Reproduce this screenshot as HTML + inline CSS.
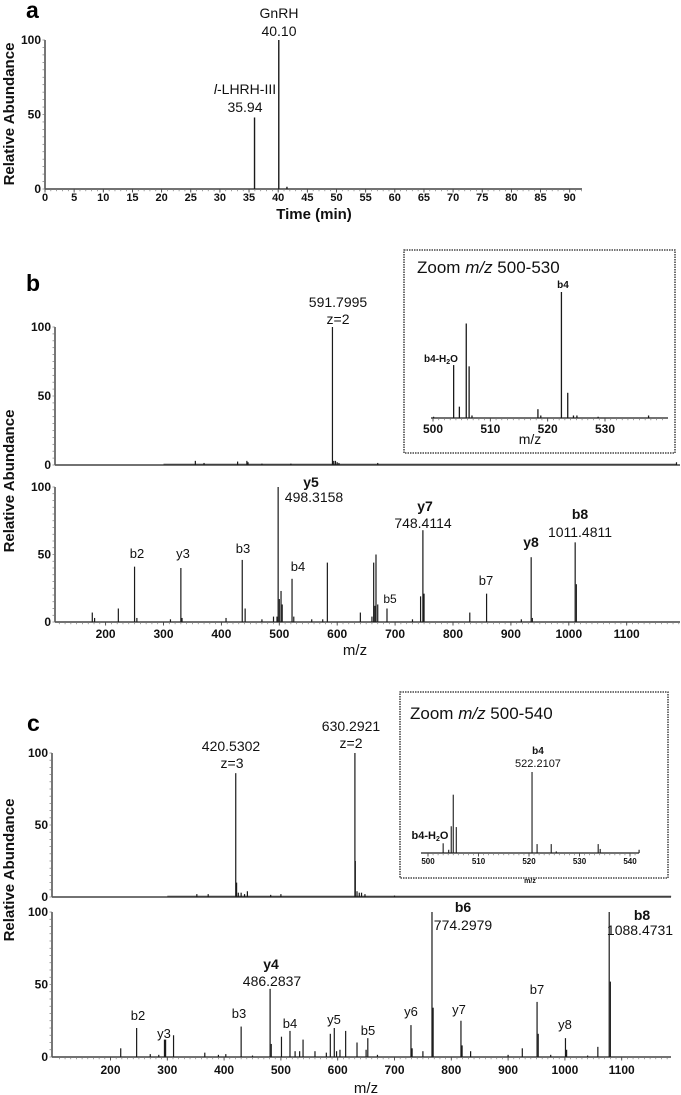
<!DOCTYPE html>
<html><head><meta charset="utf-8"><title>LC-MS figure</title>
<style>
html,body{margin:0;padding:0;background:#fff;}
svg{display:block;font-family:"Liberation Sans",Arial,sans-serif;}
.tk{font-size:11px;font-weight:bold;fill:#111;}
.ann{font-size:14px;fill:#111;}
.ion{font-size:14px;font-weight:bold;fill:#111;}
.ionr{font-size:13px;fill:#111;}
.yt{font-size:15px;font-weight:bold;fill:#111;}
.pl{font-size:23px;font-weight:bold;fill:#000;}
</style></head>
<body>
<svg id="fig" width="681" height="1095" viewBox="0 0 681 1095">
<text class="pl" x="26" y="18">a</text>
<text class="pl" x="26" y="291">b</text>
<text class="pl" x="27" y="731">c</text>
<text class="yt" transform="translate(14,114) rotate(-90)" text-anchor="middle">Relative Abundance</text>
<text class="yt" transform="translate(14,481) rotate(-90)" text-anchor="middle">Relative Abundance</text>
<text class="yt" transform="translate(14,870) rotate(-90)" text-anchor="middle">Relative Abundance</text>
<text class="yt" x="314" y="219" text-anchor="middle">Time (min)</text>
<text class="ann" x="355" y="655" text-anchor="middle" style="font-size:15px">m/z</text>
<text class="ann" x="366" y="1093" text-anchor="middle" style="font-size:15px">m/z</text>

<text class="ann" x="279" y="18" text-anchor="middle">GnRH</text>
<text class="ann" x="279" y="36" text-anchor="middle">40.10</text>
<text class="ann" x="245" y="94" text-anchor="middle"><tspan font-style="italic">l</tspan>-LHRH-III</text>
<text class="ann" x="245" y="112" text-anchor="middle">35.94</text>

<text class="ann" x="338" y="307" text-anchor="middle">591.7995</text>
<text class="ann" x="338" y="324" text-anchor="middle">z=2</text>
<text class="ion" x="311" y="487" text-anchor="middle">y5</text>
<text class="ann" x="314" y="502" text-anchor="middle">498.3158</text>
<text class="ion" x="425" y="511" text-anchor="middle">y7</text>
<text class="ann" x="423" y="528" text-anchor="middle">748.4114</text>
<text class="ion" x="580" y="519" text-anchor="middle">b8</text>
<text class="ann" x="580" y="537" text-anchor="middle">1011.4811</text>
<text class="ion" x="531" y="547" text-anchor="middle">y8</text>
<text class="ionr" x="137" y="558" text-anchor="middle">b2</text>
<text class="ionr" x="183" y="558" text-anchor="middle">y3</text>
<text class="ionr" x="243" y="553" text-anchor="middle">b3</text>
<text class="ionr" x="298" y="571" text-anchor="middle">b4</text>
<text class="ionr" x="390" y="603" text-anchor="middle" style="font-size:12px">b5</text>
<text class="ionr" x="486" y="585" text-anchor="middle">b7</text>

<rect x="404" y="250" width="271" height="203" fill="none" stroke="#222" stroke-width="1.3" stroke-dasharray="1.5,1"/>
<text x="417" y="273" style="font-size:17px" fill="#111">Zoom <tspan font-style="italic">m/z</tspan> 500-530</text>
<text x="563" y="288" text-anchor="middle" style="font-size:10px;font-weight:bold" fill="#111">b4</text>
<text x="441" y="362" text-anchor="middle" style="font-size:10px;font-weight:bold" fill="#111">b4-H<tspan font-size="7" dy="2">2</tspan><tspan dy="-2">O</tspan></text>
<text x="530" y="444" text-anchor="middle" style="font-size:14px" fill="#111">m/z</text>

<text class="ann" x="231" y="751" text-anchor="middle">420.5302</text>
<text class="ann" x="232" y="768" text-anchor="middle">z=3</text>
<text class="ann" x="351" y="731" text-anchor="middle">630.2921</text>
<text class="ann" x="351" y="748" text-anchor="middle">z=2</text>
<text class="ion" x="463" y="912" text-anchor="middle">b6</text>
<text class="ann" x="463" y="930" text-anchor="middle">774.2979</text>
<text class="ion" x="642" y="920" text-anchor="middle">b8</text>
<text class="ann" x="640" y="935" text-anchor="middle">1088.4731</text>
<text class="ion" x="271" y="969" text-anchor="middle">y4</text>
<text class="ann" x="272" y="986" text-anchor="middle">486.2837</text>
<text class="ionr" x="138" y="1020" text-anchor="middle">b2</text>
<text class="ionr" x="164" y="1038" text-anchor="middle">y3</text>
<text class="ionr" x="239" y="1018" text-anchor="middle">b3</text>
<text class="ionr" x="290" y="1028" text-anchor="middle">b4</text>
<text class="ionr" x="334" y="1024" text-anchor="middle">y5</text>
<text class="ionr" x="368" y="1035" text-anchor="middle">b5</text>
<text class="ionr" x="411" y="1016" text-anchor="middle">y6</text>
<text class="ionr" x="459" y="1014" text-anchor="middle">y7</text>
<text class="ionr" x="537" y="994" text-anchor="middle">b7</text>
<text class="ionr" x="565" y="1029" text-anchor="middle">y8</text>

<rect x="400" y="692" width="268" height="186" fill="none" stroke="#222" stroke-width="1.3" stroke-dasharray="1.5,1"/>
<text x="410" y="719" style="font-size:17px" fill="#111">Zoom <tspan font-style="italic">m/z</tspan> 500-540</text>
<text x="538" y="754" text-anchor="middle" style="font-size:10px;font-weight:bold" fill="#111">b4</text>
<text x="538" y="767" text-anchor="middle" style="font-size:11px" fill="#111">522.2107</text>
<text x="430" y="839" text-anchor="middle" style="font-size:11px;font-weight:bold" fill="#111">b4-H<tspan font-size="7" dy="2">2</tspan><tspan dy="-2">O</tspan></text>
<text x="530" y="883" text-anchor="middle" style="font-size:7px;font-weight:bold" fill="#111">m/z</text>

<g id="marks"></g>
</svg>
<script>
// ---- data ----
const aTimes = [35.94, 40.10, 41.5];
const aHeights = [48, 100, 1.5];
const aXTicks = [0,5,10,15,20,25,30,35,40,45,50,55,60,65,70,75,80,85,90];
const yTicks = [0, 50, 100];
const mzTicks = [200,300,400,500,600,700,800,900,1000,1100];

const bMsMz  = [355,370,428,444,446,470,520,591.8,594,597,600,603,670,1186];
const bMsInt = [3,1.5,2.5,3,2,1,1,100,3,3,2,1.5,1.5,2];
const bMs2Mz  = [177,181,222,250,254,312,330,332,408,436,441,470,490,496,498,500,503,505,522,525,556,575,583,640,660,663,665,667,670,686,730,744,748,750,829,858,918,935,937,1011,1013];
const bMs2Int = [7,3,10,41,3,2,40,3,3,46,10,2,4,4,100,17,23,13,32,4,2,2,44,7,4,44,12,50,13,10,2,19,68,21,7,21,2,48,3,59,28];
const bInsetMz  = [500.1,503.6,504.6,505.8,506.3,506.8,518.3,518.8,522.4,523.5,524.5,525.1,528.8,537.6];
const bInsetInt = [1,42,9,75,41,2,7,2,100,20,2,2,1,2];
const bInsetTicks = [500,510,520,530];

const cMsMz  = [352,372,420.5,422,425,430,436,441,482,500,630.3,631,634,638,642,648,700];
const cMsInt = [2,2,86,10,3,3,2,4,1.5,2,100,25,4,3,3,2,1];
const cMs2Mz  = [218,246,270,285,295,297,311,366,390,403,430,450,481,483,501,516,525,533,539,560,580,587,594,598,604,614,634,650,653,670,729,731,750,766,768,817,819,834,900,925,951,953,975,1001,1003,1040,1058,1078,1080];
const cMs2Int = [6,20,2,1.5,12,12,15,3,1.5,2,21,1,47,9,14,18,4,4,12,4,3,16,20,4,5,18,10,5,13,1.5,22,6,4,100,34,25,8,4,1.5,6,38,16,1.5,13,5,1,7,100,52];
const cInsetMz  = [503.0,504.1,504.6,505.0,505.6,520.6,521.6,524.4,525.4,533.7,534.1,541.8];
const cInsetInt = [12,4,33,72,32,100,11,11,2,11,5,4];
const cInsetTicks = [500,510,520,530,540];

// ---- drawing ----
const NS = 'http://www.w3.org/2000/svg';
const marks = document.getElementById('marks');
function mk(tag, parent){ const e=document.createElementNS(NS,tag); parent.appendChild(e); return e; }
function line(parent,x1,y1,x2,y2,w,c){ const l=mk('line',parent); l.setAttribute('x1',x1);l.setAttribute('y1',y1);l.setAttribute('x2',x2);l.setAttribute('y2',y2);l.setAttribute('stroke',c||'#222');l.setAttribute('stroke-width',w||1); return l; }
function txt(parent,x,y,s,cls,anchor){ const t=mk('text',parent); t.setAttribute('x',x);t.setAttribute('y',y);t.setAttribute('class',cls);t.setAttribute('text-anchor',anchor||'middle');t.textContent=s; return t; }
function linScale(d0,d1,r0,r1){ return v => r0+(v-d0)*(r1-r0)/(d1-d0); }

function drawAxes(name, X, Y, xl, xr, opts){
  const g = mk('g', marks);
  
  
  const y0 = Y(0), y100 = Y(100);
  const ax = line(g, xl, y0, xr, y0, 1.6, '#444');
  
  
  if(!opts.noY){
    const ay = line(g, xl, y0, xl, y100, 1.6, '#555');
    
    
    for(let v=0; v<=100; v+=5){ line(g, xl-2.5, Y(v), xl, Y(v), 0.7, '#777'); }
  }
  if(opts.yLabels){
    for(const v of yTicks){
      const t = txt(g, xl-4, Y(v)+4, String(v), 'tk', 'end');
      t.setAttribute('style','font-size:12px');
      
      
    }
  }
  if(opts.minorStep){
    for(let v=opts.minorStart; X(v)<=xr; v+=opts.minorStep){ if(X(v)>=xl) line(g, X(v), y0, X(v), y0+2.2, 0.7, '#777'); }
  }
  if(opts.xTicks){
    for(const v of opts.xTicks){
      line(g, X(v), y0, X(v), y0+3.5, 0.9, '#444');
      if(opts.xLabels){
        const t = txt(g, X(v), y0+opts.labOff, String(v), 'tk');
        if(opts.labSize) t.setAttribute('style','font-size:'+opts.labSize+'px');
        
        
      }
    }
  }
}

function drawPeaks(name, X, Y, xs, ys, w){
  const g = mk('g', marks);
  
  
  for(let i=0;i<xs.length;i++){
    const l = line(g, X(xs[i]), Y(0), X(xs[i]), Y(ys[i]), w||1, '#1a1a1a');
    
    
  }
}

// panel a
const aX = linScale(0,90,45,45+5.83*90), aY = linScale(0,100,189,40);
drawAxes('panel-a', aX, aY, 45, 582, {yLabels:true, xTicks:aXTicks, xLabels:true, labOff:12, minorStep:1, minorStart:0});
drawPeaks('panel-a', aX, aY, aTimes, aHeights, 1.4);

// panel b
const bX = linScale(200,1100,105.6,105.6+0.579*900);
const bTopY = linScale(0,100,465,327), bBotY = linScale(0,100,622,487);
const bn = line(marks, bX(300), bTopY(0)-0.6, bX(1186), bTopY(0)-0.6, 1.4, '#333');


drawAxes('panel-b-ms', bX, bTopY, 55, 680, {yLabels:true});
drawPeaks('panel-b-ms', bX, bTopY, bMsMz, bMsInt, 1.2);
drawAxes('panel-b-msms', bX, bBotY, 55, 680, {yLabels:true, xTicks:mzTicks, xLabels:true, labOff:16, labSize:12, minorStep:10, minorStart:120});
drawPeaks('panel-b-msms', bX, bBotY, bMs2Mz, bMs2Int, 1.2);
const biX = linScale(500,530,433,605), biY = linScale(0,100,418,292);
drawAxes('panel-b-inset', biX, biY, 431, 668, {noY:true, xTicks:bInsetTicks, xLabels:true, labOff:15, labSize:12, minorStep:1, minorStart:500});
drawPeaks('panel-b-inset', biX, biY, bInsetMz, bInsetInt, 1.3);

// panel c
const cX = linScale(200,1100,110.5,110.5+0.568*900);
const cTopY = linScale(0,100,897,753), cBotY = linScale(0,100,1057,912);
const cn = line(marks, cX(300), cTopY(0)-0.6, cX(1187), cTopY(0)-0.6, 1.4, '#333');


drawAxes('panel-c-ms', cX, cTopY, 52, 671, {yLabels:true});
drawPeaks('panel-c-ms', cX, cTopY, cMsMz, cMsInt, 1.2);
drawAxes('panel-c-msms', cX, cBotY, 52, 671, {yLabels:true, xTicks:mzTicks, xLabels:true, labOff:17, labSize:12, minorStep:10, minorStart:110});
drawPeaks('panel-c-msms', cX, cBotY, cMs2Mz, cMs2Int, 1.2);
const ciX = linScale(500,540,428,630), ciY = linScale(0,100,853,772);
drawAxes('panel-c-inset', ciX, ciY, 421, 639, {noY:true, xTicks:cInsetTicks, xLabels:true, labOff:11, labSize:8, minorStep:1, minorStart:500});
drawPeaks('panel-c-inset', ciX, ciY, cInsetMz, cInsetInt, 1.1);
</script>
</body></html>
